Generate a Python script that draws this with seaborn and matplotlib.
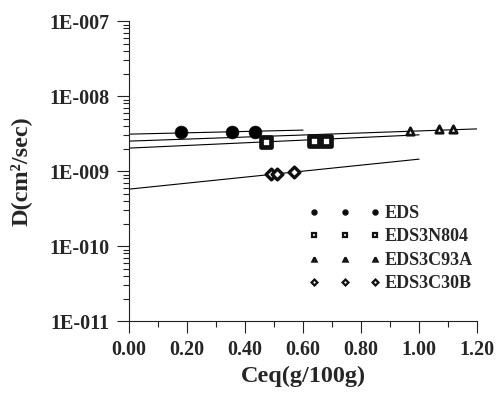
import numpy as np
import matplotlib
matplotlib.use('Agg')
import matplotlib.pyplot as plt
from matplotlib.lines import Line2D
import seaborn as sns

# data
series = ['EDS', 'EDS3N804', 'EDS3C93A', 'EDS3C30B']

eds_x = [0.18, 0.354, 0.434]
eds_d = [3.3e-9, 3.3e-9, 3.3e-9]

n804_x = [0.472, 0.638, 0.678]
n804_d = [2.41e-9, 2.56e-9, 2.56e-9]

c93a_x = [0.968, 1.07, 1.117]
c93a_d = [3.41e-9, 3.6e-9, 3.6e-9]

c30b_x = [0.49, 0.51, 0.57]
c30b_d = [9.1e-10, 9.1e-10, 9.8e-10]

# fitted lines: log10(D) = a + b*x, drawn from 0 to x_end
fit_a = [-8.507, -8.693, -8.600, -9.240]
fit_b = [0.090, 0.177, 0.136, 0.400]
fit_end = [0.60, 1.00, 1.21, 1.00]

xticks = [0.0, 0.2, 0.4, 0.6, 0.8, 1.0, 1.2]
yticks = [1e-11, 1e-10, 1e-9, 1e-8, 1e-7]
ytick_labels = ['1E-011', '1E-010', '1E-009', '1E-008', '1E-007']

sns.set_style('ticks')
plt.rcParams['font.family'] = ['Liberation Serif', 'DejaVu Serif']
plt.rcParams['font.weight'] = 'bold'

fig = plt.figure(figsize=(4.96, 3.98), dpi=100)
ax = fig.add_axes([0.260, 0.193, 0.702, 0.754])

xs_all = [eds_x, n804_x, c93a_x, c30b_x]
ds_all = [eds_d, n804_d, c93a_d, c30b_d]
markers = ['o', 's', '^', 'D']
faces = ['black', 'white', 'white', 'white']
sizes = [85, 48, 28, 30]
edges = [0.5, 3.4, 2.0, 2.4]

for a, b, xe in zip(fit_a, fit_b, fit_end):
    xx = np.array([0.0, xe])
    sns.lineplot(x=xx, y=10 ** (a + b * xx), ax=ax, color='black', lw=0.8)

for xs, ds, m, fc, s, ew in zip(xs_all, ds_all, markers, faces, sizes, edges):
    sns.scatterplot(x=xs, y=ds, ax=ax, marker=m, s=s, zorder=3)
    pts = ax.collections[-1]
    pts.set_facecolor(fc)
    pts.set_edgecolor('#111111')
    pts.set_linewidth(ew)

ax.set_yscale('log')
ax.set_xlim(0, 1.2)
ax.set_ylim(1e-11, 1e-7)
ax.set_xticks(xticks)
ax.set_xticklabels([f'{v:.2f}' for v in xticks])
ax.set_xticks(np.arange(0.1, 1.2, 0.2), minor=True)
ax.set_yticks(yticks)
ax.set_yticklabels(ytick_labels)

ax.tick_params(axis='both', which='major', direction='out', length=8.4,
               width=0.8, labelsize=14.5, color='#222222')
ax.tick_params(axis='y', which='major', pad=5.5)
ax.tick_params(axis='x', which='major', pad=5)
ax.tick_params(axis='both', which='minor', direction='out', length=4.5,
               width=0.8, color='#222222')
for sp in ['top', 'right']:
    ax.spines[sp].set_visible(False)
for sp in ['left', 'bottom']:
    ax.spines[sp].set_linewidth(0.8)
    ax.spines[sp].set_color('#222222')

ax.set_xlabel('Ceq(g/100g)', fontsize=17.5, fontweight='bold', labelpad=4)
ax.set_ylabel('D(cm²/sec)', fontsize=17.5, fontweight='bold')
ax.yaxis.set_label_coords(-0.279, 0.5)

handles = []
for m, fc in zip(markers, faces):
    handles.append(Line2D([], [], ls='none', marker=m, color='#111111',
                          markerfacecolor=fc, markeredgecolor='#111111',
                          markersize=3.0, markeredgewidth=1.6))
fig.legend(handles, series, loc='upper left', bbox_to_anchor=(0.622, 0.485),
           frameon=False, numpoints=3, handlelength=4.0, handletextpad=0.2,
           labelspacing=0.36, borderpad=0, borderaxespad=0,
           prop={'size': 13, 'weight': 'bold'})

fig.savefig('out.png', dpi=100)
